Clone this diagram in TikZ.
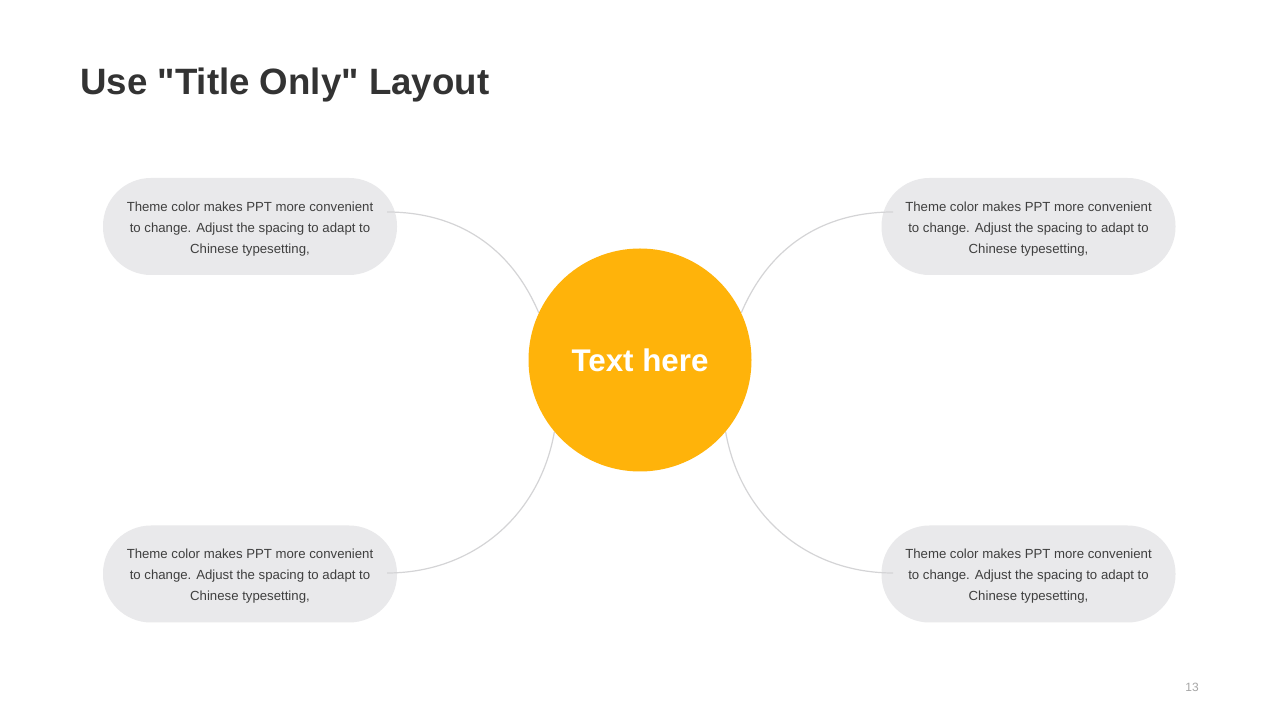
\documentclass[tikz,border=0pt]{standalone}
\usepackage{fontspec}
\setmainfont{Liberation Sans}[Ligatures=TeXOff]
\usepackage{tikz}
\definecolor{hubyellow}{HTML}{FFB30A}
\definecolor{pillgray}{HTML}{E9E9EB}
\definecolor{linkgray}{HTML}{D4D4D6}
\definecolor{bodytext}{HTML}{3F3F3F}
\definecolor{titletext}{HTML}{333333}
\definecolor{pagegray}{HTML}{A6A6A6}

\tikzset{
  pill/.style={fill=pillgray,rounded corners=36pt,minimum width=220.5pt,
    minimum height=72.75pt,inner sep=0pt},
  pilltext/.style={inner sep=0pt,align=center,text=bodytext,
    font=\fontsize{9.9}{15.75}\selectfont},
  link/.style={draw=linkgray,line width=0.9pt}
}

\begin{document}
\begin{tikzpicture}[x=0.75pt,y=0.75pt]
  \useasboundingbox[fill=white] (0,0) rectangle (1280,720);
  % title and page number
  \node[anchor=base west,inner sep=0pt,text=titletext,
    font=\fontsize{27.5}{27.5}\selectfont\bfseries] (title) at (80,625)
    {Use "Title Only" Layout};
  \node[text=pagegray,inner sep=0pt,font=\fontsize{9}{9}\selectfont]
    (page) at (1192,33) {13};
  % the four pills
  \node[pill] (tl) at (250,493.5) {};
  \node[pill] (tr) at (1028.5,493.5) {};
  \node[pill] (bl) at (250,146) {};
  \node[pill] (br) at (1028.5,146) {};
  \foreach \pp in {tl,tr,bl,br}
    \node[pilltext] (\pp text) at ([yshift=-1.7pt]\pp.center)
      {Theme color makes PPT more convenient\\
       to change. Adjust the spacing to adapt to\\ Chinese typesetting,};
  % hub
  \node[circle,minimum size=167.25pt,inner sep=0pt] (hub) at (640,360) {};
  \coordinate (tlend) at ([shift={(137,14.5)}]tl.center);
  \coordinate (blend) at ([shift={(137,1)}]bl.center);
  \coordinate (trend) at ([shift={(-135.5,14.5)}]tr.center);
  \coordinate (brend) at ([shift={(-135.5,1)}]br.center);
  \draw[link] (tlend) to[out=0,in=113] (hub.155);
  \draw[link] (blend) to[out=0,in=260] (hub.220);
  \draw[link] (trend) to[out=180,in=67] (hub.25);
  \draw[link] (brend) to[out=180,in=280] (hub.320);
  \fill[hubyellow] (hub.center) circle (111.5);
  \node[text=white,font=\fontsize{23.5}{23.5}\selectfont\bfseries] (hubtext)
    at (hub.center) {Text here};
\end{tikzpicture}
\end{document}
